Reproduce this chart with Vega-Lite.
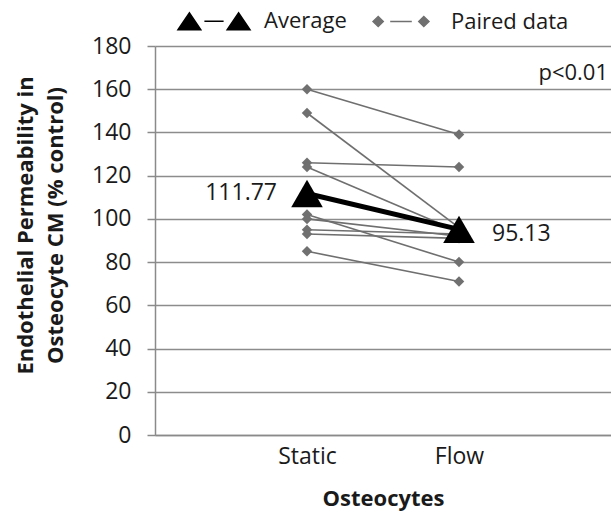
{
  "$schema": "https://vega.github.io/schema/vega-lite/v6.json",
  "autosize": "none",
  "width": 456,
  "height": 389,
  "padding": {"left": 155, "top": 46, "right": 0, "bottom": 79},
  "background": "white",
  "config": {
    "view": {"stroke": null},
    "font": "Open Sans",
    "axis": {"labelFont": "Open Sans", "titleFont": "Open Sans", "labelColor": "#1a1a1a", "titleColor": "#1a1a1a"}
  },
  "data": {
    "values": [
      {"id": "p1", "condition": "Static", "value": 160, "series": "Paired data"},
      {"id": "p1", "condition": "Flow", "value": 139, "series": "Paired data"},
      {"id": "p2", "condition": "Static", "value": 149, "series": "Paired data"},
      {"id": "p2", "condition": "Flow", "value": 96, "series": "Paired data"},
      {"id": "p3", "condition": "Static", "value": 126, "series": "Paired data"},
      {"id": "p3", "condition": "Flow", "value": 124, "series": "Paired data"},
      {"id": "p4", "condition": "Static", "value": 124, "series": "Paired data"},
      {"id": "p4", "condition": "Flow", "value": 94, "series": "Paired data"},
      {"id": "p5", "condition": "Static", "value": 102, "series": "Paired data"},
      {"id": "p5", "condition": "Flow", "value": 80, "series": "Paired data"},
      {"id": "p6", "condition": "Static", "value": 100, "series": "Paired data"},
      {"id": "p6", "condition": "Flow", "value": 92, "series": "Paired data"},
      {"id": "p7", "condition": "Static", "value": 95, "series": "Paired data"},
      {"id": "p7", "condition": "Flow", "value": 93, "series": "Paired data"},
      {"id": "p8", "condition": "Static", "value": 93, "series": "Paired data"},
      {"id": "p8", "condition": "Flow", "value": 91, "series": "Paired data"},
      {"id": "p9", "condition": "Static", "value": 85, "series": "Paired data"},
      {"id": "p9", "condition": "Flow", "value": 71, "series": "Paired data"},
      {"id": "avg", "condition": "Static", "value": 111.77, "series": "Average"},
      {"id": "avg", "condition": "Flow", "value": 95.13, "series": "Average"}
    ]
  },
  "encoding": {
    "x": {
      "field": "condition", "type": "nominal",
      "scale": {"type": "point", "domain": ["Static", "Flow"], "padding": 1.02},
      "axis": {
        "title": "Osteocytes", "titleFontSize": 22, "titleFontWeight": "bold", "titlePadding": 20,
        "labelFontSize": 23, "labelAngle": 0, "labelPadding": 10, "ticks": false,
        "domainColor": "#8a8a8a", "domainWidth": 1.5, "grid": false
      }
    },
    "y": {
      "field": "value", "type": "quantitative",
      "scale": {"domain": [0, 180], "nice": false, "zero": true},
      "axis": {
        "title": ["Endothelial Permeability in", "Osteocyte CM (% control)"],
        "titleFontSize": 22, "titleFontWeight": "bold", "titlePadding": 24, "titleY": 179, "titleLineHeight": 30,
        "values": [0, 20, 40, 60, 80, 100, 120, 140, 160, 180],
        "labelFontSize": 23, "labelPadding": 16, "tickSize": 8, "tickColor": "#8a8a8a", "tickWidth": 1.5,
        "domainColor": "#8a8a8a", "domainWidth": 1.5,
        "grid": true, "gridColor": "#8c8c8c", "gridWidth": 1.5
      }
    }
  },
  "layer": [
    {
      "transform": [{"filter": "datum.series === 'Paired data'"}],
      "mark": {"type": "line", "color": "#6f6f6f", "strokeWidth": 1.6},
      "encoding": {"detail": {"field": "id"}}
    },
    {
      "transform": [{"filter": "datum.series === 'Paired data'"}],
      "mark": {"type": "point", "filled": true, "opacity": 1, "shape": "diamond", "size": 110, "color": "#707070"}
    },
    {
      "transform": [{"filter": "datum.series === 'Average'"}],
      "mark": {"type": "line", "color": "#000000", "strokeWidth": 5},
      "encoding": {"detail": {"field": "id"}}
    },
    {
      "transform": [{"filter": "datum.series === 'Average'"}],
      "mark": {"type": "point", "filled": true, "opacity": 1, "shape": "triangle-up", "size": 1000, "color": "#000000"}
    },
    {
      "transform": [{"filter": "datum.series === 'legend-only'"}],
      "mark": {"type": "point", "filled": true, "opacity": 1, "size": 576, "strokeWidth": 1.5},
      "encoding": {
        "fill": {
          "field": "series", "type": "nominal",
          "scale": {"domain": ["Average", "Paired data"], "range": ["#000000", "#707070"]},
          "legend": {
            "orient": "none", "legendX": 46, "legendY": -38, "direction": "horizontal",
            "title": null, "padding": 0,
            "labelFont": "Open Sans", "labelFontSize": 22, "labelColor": "#1a1a1a",
            "labelOffset": 37, "columnPadding": 23, "symbolSize": 576,
            "symbolOpacity": 1, "symbolStrokeWidth": 1.5
          }
        },
        "stroke": {
          "field": "series", "type": "nominal",
          "scale": {"domain": ["Average", "Paired data"], "range": ["#000000", "#707070"]}
        },
        "shape": {
          "field": "series", "type": "nominal",
          "scale": {"domain": ["Average", "Paired data"], "range": ["M-3,0.7L-2.05,-0.7L-1.1,0.7Z M-0.8,0H0.8 M1.1,0.7L2.05,-0.7L3,0.7Z", "M-2.33,0L-1.9,-0.42L-1.48,0L-1.9,0.42Z M-0.9,0H0.9 M1.48,0L1.9,-0.42L2.33,0L1.9,0.42Z"]}
        }
      }
    },
    {
      "transform": [{"filter": "datum.series === 'Average' && datum.condition === 'Static'"}],
      "mark": {"type": "text", "align": "right", "baseline": "middle", "dx": -30, "fontSize": 23, "font": "Open Sans", "color": "#1a1a1a"},
      "encoding": {"text": {"field": "value", "type": "quantitative", "format": ".2f"}}
    },
    {
      "transform": [{"filter": "datum.series === 'Average' && datum.condition === 'Flow'"}],
      "mark": {"type": "text", "align": "left", "baseline": "middle", "dx": 33, "dy": 5, "fontSize": 23, "font": "Open Sans", "color": "#1a1a1a"},
      "encoding": {"text": {"field": "value", "type": "quantitative", "format": ".2f"}}
    },
    {
      "data": {"values": [{"note": "p<0.01", "value": 167.5}]},
      "mark": {"type": "text", "align": "right", "baseline": "middle", "dx": -3, "fontSize": 22, "font": "Open Sans", "color": "#1a1a1a"},
      "encoding": {
        "x": {"value": "width"},
        "y": {"field": "value", "type": "quantitative"},
        "text": {"field": "note"}
      }
    }
  ]
}
